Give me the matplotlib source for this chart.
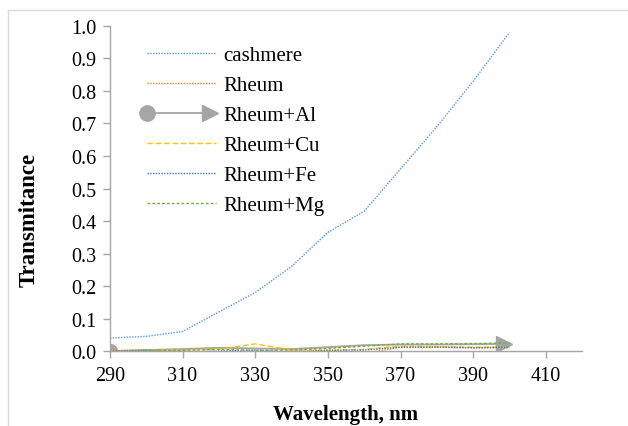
import numpy as np
import matplotlib
matplotlib.use('Agg')
import matplotlib.pyplot as plt
from matplotlib.lines import Line2D
from matplotlib.legend_handler import HandlerBase

plt.rcParams['font.family'] = ['Liberation Serif', 'DejaVu Serif']

# --- Data ---
wavelength = [290, 300, 310, 320, 330, 340, 350, 360, 370, 380, 390, 400]
cashmere = [0.040, 0.045, 0.060, 0.120, 0.180, 0.260, 0.365, 0.430, 0.560, 0.690, 0.830, 0.980]
rheum = [0.000, 0.003, 0.000, -0.006, -0.003, 0.000, 0.002, -0.008, 0.012, 0.012, 0.010, 0.010]
rheum_al = [0.000, 0.003, 0.006, 0.010, 0.008, 0.006, 0.012, 0.018, 0.020, 0.020, 0.021, 0.022]
rheum_cu = [0.000, 0.002, 0.003, 0.005, 0.022, 0.003, 0.002, 0.005, 0.015, 0.013, 0.012, 0.012]
rheum_fe = [0.000, 0.002, -0.005, 0.000, 0.003, -0.005, 0.002, 0.003, 0.012, 0.012, 0.010, 0.012]
rheum_mg = [-0.003, 0.002, 0.002, 0.005, 0.002, 0.003, 0.008, 0.015, 0.022, 0.022, 0.023, 0.025]

x_ticks = [290, 310, 330, 350, 370, 390, 410]
y_ticks = [0.0, 0.1, 0.2, 0.3, 0.4, 0.5, 0.6, 0.7, 0.8, 0.9, 1.0]

c_blue = '#5B9BD5'
c_orange = '#ED7D31'
c_gray = '#A5A5A5'
c_gold = '#FFC000'
c_dblue = '#4472C4'
c_green = '#70AD47'
spine_col = '#A6A6A6'


# legend handle for the line with an oval start and arrow end
class ArrowLineHandler(HandlerBase):
    def create_artists(self, legend, orig_handle, xdescent, ydescent,
                       width, height, fontsize, trans):
        y = height / 2 - ydescent
        x0, x1 = -xdescent, width - xdescent
        line = Line2D([x0, x1 - 6], [y, y], color=c_gray, lw=1.3)
        start = Line2D([x0], [y], marker='o', markersize=11, color=c_gray, linestyle='None')
        end = Line2D([x1 - 4], [y], marker='>', markersize=11, color=c_gray, linestyle='None')
        for a in (line, start, end):
            a.set_transform(trans)
        return [line, start, end]


fig = plt.figure(figsize=(6.28, 4.27), dpi=100)
ax = fig.add_axes([0.175, 0.1756, 0.752, 0.7612])

# chart area border
fig.add_artist(Line2D([8 / 628, 1], [1 - 11 / 427, 1 - 11 / 427], color='#D9D9D9', lw=1,
                      transform=fig.transFigure))
fig.add_artist(Line2D([8 / 628, 8 / 628], [0, 1 - 11 / 427], color='#D9D9D9', lw=1,
                      transform=fig.transFigure))

l1, = ax.plot(wavelength, cashmere, color=c_blue, lw=1, linestyle=(0, (1, 1)), label='cashmere')
l2, = ax.plot(wavelength, rheum, color=c_orange, lw=1, linestyle=(0, (1, 1)), label='Rheum')
l3, = ax.plot(wavelength, rheum_al, color=c_gray, lw=1.3, label='Rheum+Al')
ax.plot(wavelength[0], rheum_al[0], marker='o', markersize=10, color=c_gray)
ax.plot(wavelength[-1] - 1.5, rheum_al[-1], marker='>', markersize=12, color=c_gray)
l4, = ax.plot(wavelength, rheum_cu, color=c_gold, lw=1, linestyle=(0, (4, 2)), label='Rheum+Cu')
l5, = ax.plot(wavelength, rheum_fe, color=c_dblue, lw=1, linestyle=(0, (1, 1)), label='Rheum+Fe')
l6, = ax.plot(wavelength, rheum_mg, color=c_green, lw=1, linestyle=(0, (2, 1.5)), label='Rheum+Mg')

ax.set_xlim(290, 420)
ax.set_ylim(0, 1.0)
ax.set_xticks(x_ticks)
ax.set_yticks(y_ticks)
ax.set_yticklabels([f'{v:.1f}' for v in y_ticks])
ax.tick_params(axis='both', labelsize=14.5, color=spine_col, length=5, width=1, direction='out')
ax.tick_params(axis='x', pad=6)
ax.tick_params(axis='y', pad=5)

for side in ['top', 'right']:
    ax.spines[side].set_visible(False)
for side in ['left', 'bottom']:
    ax.spines[side].set_color(spine_col)
    ax.spines[side].set_linewidth(1)
ax.spines['bottom'].set_position(('data', 0))

ax.set_xlabel('Wavelength, nm', fontsize=15, fontweight='bold')
ax.xaxis.set_label_coords(0.5, -0.163)
ax.set_ylabel('Transmitance', fontsize=16.5, fontweight='bold')
ax.yaxis.set_label_coords(-0.149, 0.406)

ax.legend([l1, l2, l3, l4, l5, l6],
          ['cashmere', 'Rheum', 'Rheum+Al', 'Rheum+Cu', 'Rheum+Fe', 'Rheum+Mg'],
          handler_map={l3: ArrowLineHandler()},
          loc='upper left', bbox_to_anchor=(0.039, 0.997), frameon=False,
          fontsize=15, handlelength=3.3, handletextpad=0.35, labelspacing=0.5)

fig.savefig('out.png', dpi=100)
